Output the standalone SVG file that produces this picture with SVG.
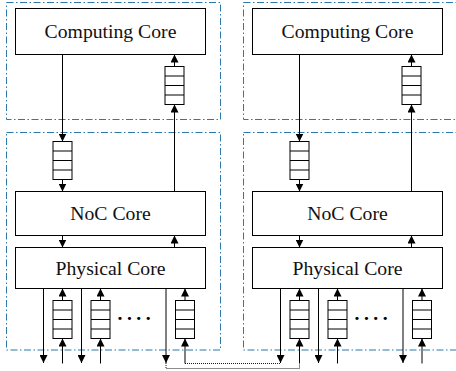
<svg xmlns="http://www.w3.org/2000/svg" width="456" height="371" viewBox="0 0 456 371">
<style>
.box{fill:#fff;stroke:#000;stroke-width:1}
.q{fill:#fff;stroke:#000;stroke-width:1}
.qd{stroke:#000;stroke-width:1}
text{font-family:'Liberation Serif','DejaVu Serif',serif}
.lbl{font-size:19.7px;fill:#111;text-anchor:middle}
.dots{font-size:19.7px;font-weight:bold;letter-spacing:4.5px;fill:#000}
.region{fill:none;stroke:#2b78ad;stroke-width:1;stroke-dasharray:7 2.5 1.5 2.5}
.ca{fill:none;stroke:#000;stroke-width:1;marker-end:url(#ah)}
.dot{fill:none;stroke:#000;stroke-width:0.9;stroke-dasharray:1 1}
</style>
<defs>
<marker id="ah" markerUnits="userSpaceOnUse" markerWidth="8" markerHeight="8" refX="8" refY="4" orient="auto">
<path d="M0,0 L8,4 L0,8 z" fill="#000"/>
</marker>
<g id="queue">
<rect class="q" x="0" y="0" width="19" height="38"/>
<line class="qd" x1="0" y1="9.5" x2="19" y2="9.5"/>
<line class="qd" x1="0" y1="19" x2="19" y2="19"/>
<line class="qd" x1="0" y1="28.5" x2="19" y2="28.5"/>
</g>
</defs>
<rect width="456" height="371" fill="#fff"/>

<g id="column-left">
<g id="regions-left">
<rect class="region" x="6.5" y="2.5" width="214" height="117"/>
<rect class="region" x="6.5" y="132.5" width="214" height="217.5"/>
</g>
<g id="connectors-left">
<path class="ca" d="M62.5,54.5 V141.5"/>
<path class="ca" d="M62.5,179.5 V191.5"/>
<path class="ca" d="M174.5,191.5 V104.5"/>
<path class="ca" d="M174.5,66.5 V54.5"/>
<path class="ca" d="M62.5,235.5 V247.5"/>
<path class="ca" d="M174.5,247.5 V235.5"/>
<path class="ca" d="M43.5,288.5 V363"/>
<path class="ca" d="M81.5,288.5 V363"/>
<path class="ca" d="M166,288.5 V363"/>
<path class="ca" d="M62.5,363.5 V338.5"/>
<path class="ca" d="M62.5,300.5 V288.5"/>
<path class="ca" d="M100.5,363.5 V338.5"/>
<path class="ca" d="M100.5,300.5 V288.5"/>
<path class="ca" d="M185,363.5 V338.5"/>
<path class="ca" d="M185,300.5 V288.5"/>
</g>
<g id="computing-core-left"><rect class="box" x="15.5" y="8.5" width="190" height="46"/><text class="lbl" x="110.5" y="37.5" font-family="Liberation Serif, DejaVu Serif, serif">Computing Core</text></g>
<g id="noc-core-left"><rect class="box" x="15.5" y="191.5" width="190" height="44"/><text class="lbl" x="110.5" y="220" font-family="Liberation Serif, DejaVu Serif, serif">NoC Core</text></g>
<g id="physical-core-left"><rect class="box" x="15.5" y="247.5" width="190" height="41"/><text class="lbl" x="110.5" y="275" font-family="Liberation Serif, DejaVu Serif, serif">Physical Core</text></g>
<g id="queue-up-left"><use href="#queue" x="165" y="66.5"/></g>
<g id="queue-down-left"><use href="#queue" x="53" y="141.5"/></g>
<g id="queue-p1-left"><use href="#queue" x="53" y="300.5"/></g>
<g id="queue-p2-left"><use href="#queue" x="91" y="300.5"/></g>
<g id="queue-p3-left"><use href="#queue" x="175.5" y="300.5"/></g>
<g id="dots-left"><text class="dots" x="117.5" y="319.5" font-family="Liberation Serif, DejaVu Serif, serif">....</text></g>
</g>

<g id="column-right" transform="translate(237,0)">
<g id="regions-right">
<rect class="region" x="6.5" y="2.5" width="214" height="117"/>
<rect class="region" x="6.5" y="132.5" width="214" height="217.5"/>
</g>
<g id="connectors-right">
<path class="ca" d="M62.5,54.5 V141.5"/>
<path class="ca" d="M62.5,179.5 V191.5"/>
<path class="ca" d="M174.5,191.5 V104.5"/>
<path class="ca" d="M174.5,66.5 V54.5"/>
<path class="ca" d="M62.5,235.5 V247.5"/>
<path class="ca" d="M174.5,247.5 V235.5"/>
<path class="ca" d="M43.5,288.5 V363"/>
<path class="ca" d="M81.5,288.5 V363"/>
<path class="ca" d="M166,288.5 V363"/>
<path class="ca" d="M62.5,363.5 V338.5"/>
<path class="ca" d="M62.5,300.5 V288.5"/>
<path class="ca" d="M100.5,363.5 V338.5"/>
<path class="ca" d="M100.5,300.5 V288.5"/>
<path class="ca" d="M185,363.5 V338.5"/>
<path class="ca" d="M185,300.5 V288.5"/>
</g>
<g id="computing-core-right"><rect class="box" x="15.5" y="8.5" width="190" height="46"/><text class="lbl" x="110.5" y="37.5" font-family="Liberation Serif, DejaVu Serif, serif">Computing Core</text></g>
<g id="noc-core-right"><rect class="box" x="15.5" y="191.5" width="190" height="44"/><text class="lbl" x="110.5" y="220" font-family="Liberation Serif, DejaVu Serif, serif">NoC Core</text></g>
<g id="physical-core-right"><rect class="box" x="15.5" y="247.5" width="190" height="41"/><text class="lbl" x="110.5" y="275" font-family="Liberation Serif, DejaVu Serif, serif">Physical Core</text></g>
<g id="queue-up-right"><use href="#queue" x="165" y="66.5"/></g>
<g id="queue-down-right"><use href="#queue" x="53" y="141.5"/></g>
<g id="queue-p1-right"><use href="#queue" x="53" y="300.5"/></g>
<g id="queue-p2-right"><use href="#queue" x="91" y="300.5"/></g>
<g id="queue-p3-right"><use href="#queue" x="175.5" y="300.5"/></g>
<g id="dots-right"><text class="dots" x="117.5" y="319.5" font-family="Liberation Serif, DejaVu Serif, serif">....</text></g>
</g>

<g id="inter-links">
<path class="dot" d="M166,363 V368.5 H299.5 V363.5"/>
<path class="dot" d="M185,363.5 H280.5"/>
</g>
</svg>
